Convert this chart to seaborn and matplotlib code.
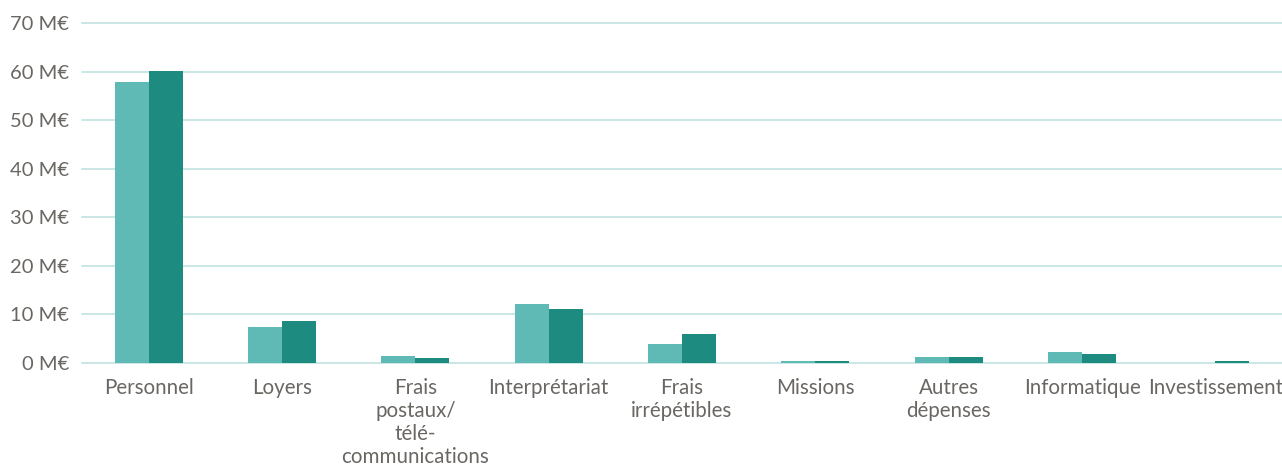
import matplotlib
matplotlib.use("Agg")
import matplotlib.pyplot as plt
import seaborn as sns
import pandas as pd

categories = [
    "Personnel",
    "Loyers",
    "Frais\npostaux/\ntélé-\ncommunications",
    "Interprétariat",
    "Frais\nirrépétibles",
    "Missions",
    "Autres\ndépenses",
    "Informatique",
    "Investissement",
]
series_names = ["Exercice précédent", "Exercice courant"]
values_prev = [57.9, 7.4, 1.4, 12.1, 3.9, 0.4, 1.2, 2.3, 0.1]
values_curr = [60.1, 8.6, 1.0, 11.1, 6.0, 0.4, 1.2, 1.8, 0.4]
y_ticks = [0, 10, 20, 30, 40, 50, 60, 70]

df = pd.DataFrame({
    "categorie": categories * 2,
    "serie": [series_names[0]] * len(categories) + [series_names[1]] * len(categories),
    "montant": values_prev + values_curr,
})

sns.set_theme(style="white")
plt.rcParams["font.family"] = ["Lato", "DejaVu Sans"]

text_color = "#6a6763"
grid_color = "#c9e7e5"
palette = {series_names[0]: "#5fb9b5", series_names[1]: "#1e8b80"}

fig = plt.figure(figsize=(12.82, 4.67), dpi=100)
ax = fig.add_axes([82 / 1282, 104 / 467, 1200 / 1282, 340 / 467])

sns.barplot(
    data=df, x="categorie", y="montant", hue="serie",
    order=categories, hue_order=series_names, palette=palette,
    width=0.51, saturation=1, linewidth=0, legend=False, ax=ax,
)

ax.set_ylim(0, 70)
ax.set_xlim(-0.5, len(categories) - 0.5)
ax.set_yticks(y_ticks)
ax.set_yticklabels([f"{v} M€" for v in y_ticks])
ax.set_axisbelow(True)
ax.yaxis.grid(True, color=grid_color, linewidth=1.4)
for gl in ax.get_ygridlines():
    gl.set_clip_on(False)
ax.xaxis.grid(False)
for s in ax.spines.values():
    s.set_visible(False)
ax.set_xlabel("")
ax.set_ylabel("")
ax.tick_params(axis="y", length=0, pad=9, labelsize=14.5, labelcolor=text_color)
ax.tick_params(axis="x", length=0, pad=10.5, labelsize=14.8, labelcolor=text_color)
for lbl in ax.get_xticklabels():
    lbl.set_linespacing(1.2)
    lbl.set_verticalalignment("top")

fig.savefig("out.png", dpi=100, facecolor="white")
